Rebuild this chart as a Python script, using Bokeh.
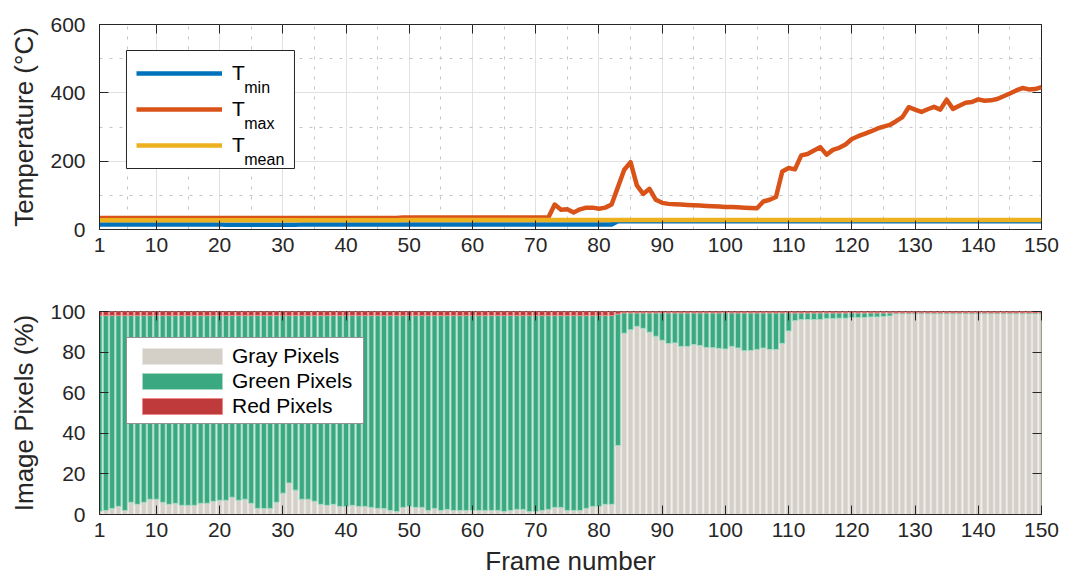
from bokeh.plotting import figure
from bokeh.layouts import column
from bokeh.models import (FixedTicker, LinearAxis, Legend, LegendItem, Label,
                          Range1d, ColumnDataSource, BoxAnnotation)
from bokeh.embed import file_html
from bokeh.resources import INLINE

# ---------------- data ----------------
frames = list(range(1, 151))

t_min = [15] * 20 + [14] * 12 + [15] * 50 + [24] * 68
t_mean = [27] * 48 + [28] * 102
t_max = ([34] * 48 + [35] * 24 +
         [73, 58, 59, 50, 59, 64, 64, 61, 64, 73,
          124, 175, 197, 129, 104, 119, 87, 78, 75, 74,
          73, 72, 71, 70, 69, 68, 67, 66, 66, 65,
          64, 63, 62, 82, 87, 95, 170, 180, 176, 217,
          221, 231, 241, 219, 233, 239, 249, 265, 273, 280,
          287, 295, 301, 306, 317, 329, 358, 351, 344, 352,
          359, 351, 380, 353, 362, 371, 373, 381, 377, 378,
          382, 390, 398, 407, 414, 410, 411, 417])

gray_pct = [1.5, 2, 3, 4, 2, 6, 5, 6, 7.5, 7.5,
            6, 5, 5.5, 4.5, 4.5, 4.5, 5.5, 5.5, 6.5, 7,
            7, 8.5, 7, 7.5, 5.5, 3, 3, 3, 6, 10.5,
            15.5, 12, 7.5, 7.5, 6.5, 5, 4.5, 5, 4, 4,
            4.5, 4, 4, 3.5, 3, 3, 2, 1.5, 3.5, 4,
            3.5, 3.5, 2, 3, 2, 2.5, 2, 2, 2, 2,
            2, 2, 2, 2, 1.5, 2, 2.5, 2.5, 1.5, 1.5,
            2, 2.5, 3.5, 3.5, 2, 2, 2, 3, 4, 4,
            5, 5, 34, 89.3, 91, 92.7, 91.7, 89.8, 87.8, 85.8,
            84.2, 84.5, 82.8, 82.8, 83.7, 83.2, 82.2, 82.2, 81.8, 81.5,
            82.8, 82, 80.7, 80.8, 81.3, 82, 81.3, 81.3, 84.3, 90.4,
            95.5, 96, 96, 96, 96, 96.5, 96.5, 96.7, 96.7, 97,
            97, 97, 97.3, 97.3, 97.5, 97.8, 98.8, 98.8, 98.8, 98.8] + [98.8] * 20

green_pct = [96.5, 96, 95, 94, 96, 92, 93, 92, 90.5, 90.5,
             92, 93, 92.5, 93.5, 93.5, 93.5, 92.5, 92.5, 91.5, 91,
             91, 89.5, 91, 90.5, 92.5, 95, 95, 95, 92, 87.5,
             82.5, 86, 90.5, 90.5, 91.5, 93, 93.5, 93, 94, 94,
             93.5, 94, 94, 94.5, 95, 95, 96, 96.5, 94.5, 94,
             94.5, 94.5, 96, 95, 96, 95.5, 96, 96, 96, 96,
             96, 96, 96, 96, 96.5, 96, 95.5, 95.5, 96.5, 96.5,
             96, 95.5, 94.5, 94.5, 96, 96, 96, 95, 94, 94,
             93, 93, 64.8, 10.0, 8.3, 6.6, 7.6, 9.5, 11.5, 13.5,
             15.1, 14.8, 16.5, 16.5, 15.6, 16.1, 17.1, 17.1, 17.5, 17.8,
             16.5, 17.3, 18.6, 18.5, 18.0, 17.3, 18.0, 18.0, 15.0, 8.9,
             3.8, 3.3, 3.3, 3.3, 3.3, 2.8, 2.8, 2.6, 2.6, 2.3,
             2.3, 2.3, 2.0, 2.0, 1.8, 1.5, 0.5, 0.5, 0.5, 0.5] + [0.5] * 20

red_pct = [2.0] * 82 + [1.2] + [0.7] * 67

x_tick_values = [1, 10, 20, 30, 40, 50, 60, 70, 80, 90, 100, 110, 120, 130, 140, 150]
x_minor_values = [5.5, 15, 25, 35, 45, 55, 65, 75, 85, 95, 105, 115, 125, 135, 145]
temp_tick_values = [0, 200, 400, 600]
temp_minor_values = [100, 300, 500]
pix_tick_values = [0, 20, 40, 60, 80, 100]

series_names = ["min", "max", "mean"]
bar_names = ["Gray Pixels", "Green Pixels", "Red Pixels"]

# ---------------- style ----------------
FONT = "Liberation Sans"
AX = "#262626"
C_MIN, C_MAX, C_MEAN = "#0072BD", "#D95319", "#EDB120"
C_GRAY, C_GREEN, C_RED = "#D4D0C8", "#3AA982", "#BF3A3A"
E_GRAY, E_GREEN, E_RED = "#E9E6E1", "#A3D8C2", "#EE8A8A"

# top legend frame (in the top plot's frame units) and subscript anchors
LEG_L, LEG_R, LEG_T, LEG_B = 5.27, 31.84, 523.9, 178.5
SUB_X = 23.9
SUB_Y0 = 415.5
SUB_DY = 105.4


def style_axis(ax, ticks, minor, show_labels=True):
    ax.ticker = FixedTicker(ticks=ticks, minor_ticks=minor)
    ax.major_tick_in = 9
    ax.major_tick_out = 0
    ax.minor_tick_in = 0
    ax.minor_tick_out = 0
    ax.minor_tick_line_color = None
    ax.major_tick_line_color = AX
    ax.major_tick_line_width = 1
    ax.axis_line_color = AX
    ax.axis_line_width = 1
    ax.major_label_text_font = FONT
    if show_labels:
        ax.major_label_text_color = AX
        ax.major_label_text_font_size = "21px"
    else:
        ax.major_label_text_color = None
        ax.major_label_text_font_size = "1px"
        ax.major_label_standoff = 0
    ax.axis_label_text_font = FONT
    ax.axis_label_text_font_size = "26px"
    ax.axis_label_text_font_style = "normal"
    ax.axis_label_text_color = AX


def make_fig(height, b_top, b_bottom, y_max, y_ticks, y_minor):
    p = figure(width=1065, height=height, x_range=Range1d(1, 150),
               y_range=Range1d(0, y_max), output_backend="svg",
               toolbar_location=None, min_border_left=99, min_border_right=24,
               min_border_top=b_top, min_border_bottom=b_bottom)
    p.outline_line_color = AX
    p.outline_line_width = 1
    p.background_fill_color = "white"
    p.border_fill_color = "white"
    xax = p.below[0]
    yax = p.left[0]
    style_axis(xax, x_tick_values, x_minor_values)
    style_axis(yax, y_ticks, y_minor)
    xax.major_label_standoff = 8
    yax.major_label_standoff = 14
    yax.axis_label_standoff = 8
    top_ax = LinearAxis()
    style_axis(top_ax, x_tick_values, x_minor_values, show_labels=False)
    top_ax.axis_line_color = None
    right_ax = LinearAxis()
    style_axis(right_ax, y_ticks, y_minor, show_labels=False)
    right_ax.axis_line_color = None
    p.add_layout(top_ax, "above")
    p.add_layout(right_ax, "right")
    return p, xax, yax


# ---------------- top: temperatures ----------------
top, top_x, top_y = make_fig(290, 24, 61, 600, temp_tick_values, temp_minor_values)
top_y.axis_label = "Temperature (°C)"
for g in (top.xgrid[0], top.ygrid[0]):
    g.grid_line_color = "#E1E1E1"
    g.grid_line_width = 1
    g.minor_grid_line_color = "#C4C4C4"
    g.minor_grid_line_dash = "3 7"
    g.minor_grid_line_width = 1
top.xgrid[0].ticker = FixedTicker(ticks=x_tick_values, minor_ticks=x_minor_values)
top.ygrid[0].ticker = FixedTicker(ticks=temp_tick_values, minor_ticks=temp_minor_values)

src_t = ColumnDataSource(dict(frame=frames, tmin=t_min, tmax=t_max, tmean=t_mean))
r_min = top.line("frame", "tmin", source=src_t, line_color=C_MIN, line_width=4.5, line_join="round")
r_max = top.line("frame", "tmax", source=src_t, line_color=C_MAX, line_width=4.5, line_join="round")
r_mean = top.line("frame", "tmean", source=src_t, line_color=C_MEAN, line_width=4.5, line_join="round")

# white legend panel drawn beneath a transparent legend so the subscripts stay visible
top.add_layout(BoxAnnotation(left=LEG_L, right=LEG_R, top=LEG_T, bottom=LEG_B,
                             fill_color="white", fill_alpha=1.0, line_color=AX,
                             line_alpha=1.0, line_width=1, level="guide"))
leg_t = Legend(items=[LegendItem(label="T", renderers=[r]) for r in (r_min, r_max, r_mean)],
               location=(37, 71), orientation="vertical", padding=0, spacing=10,
               glyph_width=86, glyph_height=26, label_height=26, label_width=52,
               label_standoff=10, label_text_font=FONT, label_text_font_size="21px",
               label_text_color="black", border_line_color=None,
               background_fill_alpha=0.0, margin=0)
top.add_layout(leg_t)
for i, name in enumerate(series_names):
    top.add_layout(Label(x=SUB_X, y=SUB_Y0 - SUB_DY * i,
                         text=name, text_font=FONT, text_font_size="16px",
                         text_color="black", text_baseline="alphabetic",
                         text_align="left", level="overlay"))

# ---------------- bottom: pixel shares ----------------
bot, bot_x, bot_y = make_fig(288, 21, 64, 100, pix_tick_values, [])
bot_y.axis_label = "Image Pixels (%)"
bot_x.axis_label = "Frame number"
bot_x.axis_label_standoff = 6
bot.xgrid[0].grid_line_color = None
bot.ygrid[0].grid_line_color = None

src_b = ColumnDataSource(dict(frame=frames, gray=gray_pct, green=green_pct, red=red_pct))
bars = bot.vbar_stack(["gray", "green", "red"], x="frame", width=0.8, source=src_b,
                      fill_color=[C_GRAY, C_GREEN, C_RED],
                      line_color=[E_GRAY, E_GREEN, E_RED], line_width=1)

leg_b = Legend(items=[LegendItem(label=n, renderers=[r]) for n, r in zip(bar_names, bars)],
               location=(27, 90), orientation="vertical", padding=5, spacing=0,
               glyph_width=100, glyph_height=20, label_height=25, label_width=126,
               label_standoff=0, label_text_font=FONT, label_text_font_size="21px",
               label_text_color="black", border_line_color=AX, border_line_width=1,
               background_fill_color="white", background_fill_alpha=1.0, margin=0)
bot.add_layout(leg_b)

page = column(top, bot)
open("out.html", "w").write(file_html(page, INLINE))
